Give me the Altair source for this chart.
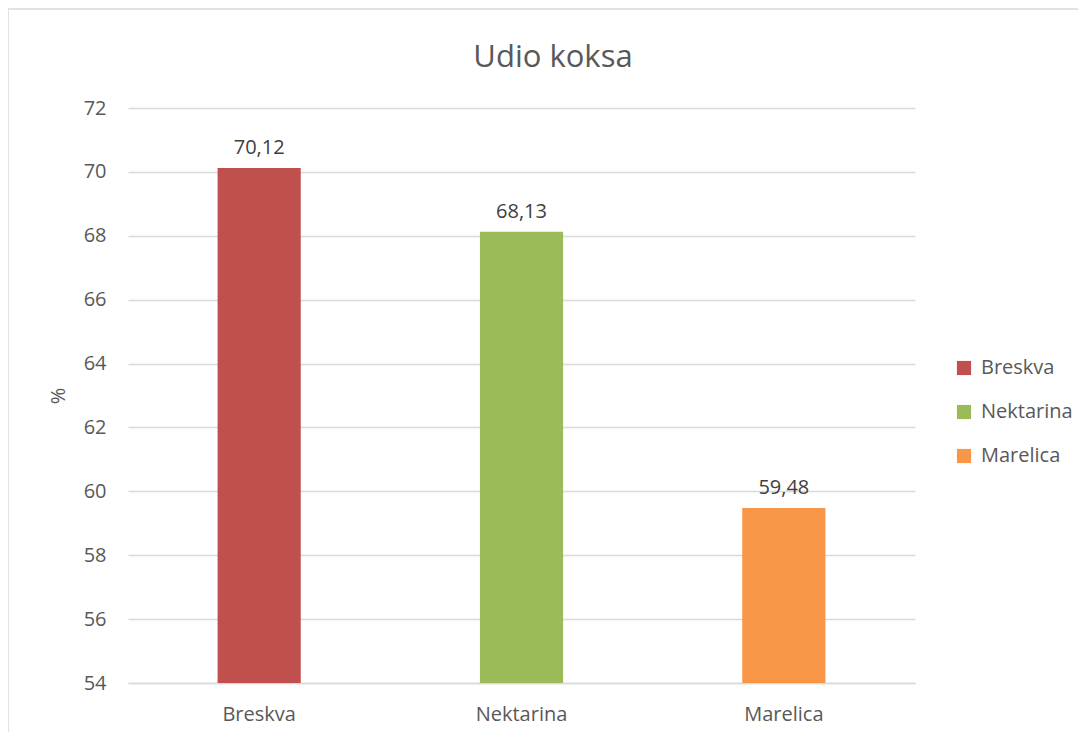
import altair as alt
import pandas as pd

categories = ["Breskva", "Nektarina", "Marelica"]
values = [70.12, 68.13, 59.48]
colors = ["#C0504D", "#9BBB59", "#F79646"]
y_ticks = [54, 56, 58, 60, 62, 64, 66, 68, 70, 72]
title_text = "Udio koksa"

df = pd.DataFrame({"cat": categories, "val": values})

FONT = "Open Sans"

x_enc = alt.X("cat:N", sort=categories, title=None,
              scale=alt.Scale(paddingInner=0.683, paddingOuter=0.3415),
              axis=alt.Axis(labelAngle=0, labelFontSize=20, labelColor="#595959",
                            labelFont=FONT, ticks=False, domain=True,
                            domainColor="#D9D9D9", domainWidth=1.5, labelPadding=21))
y_enc = alt.Y("val:Q", title="%",
              scale=alt.Scale(domain=[54, 72], nice=False, zero=False),
              axis=alt.Axis(values=y_ticks, labelFontSize=20, labelColor="#595959",
                            labelFont=FONT, ticks=False, domain=False,
                            gridColor="#D9D9D9", gridWidth=1.5, labelPadding=22,
                            titleFontSize=20, titleColor="#595959", titleFont=FONT,
                            titleFontWeight="normal", titlePadding=15))

bars = alt.Chart(df).mark_bar(clip=True).encode(
    x=x_enc,
    y=y_enc,
    y2=alt.datum(54),
    color=alt.Color("cat:N", sort=categories,
                    scale=alt.Scale(domain=categories, range=colors),
                    legend=alt.Legend(title=None, orient="none", legendX=826, legendY=250,
                                      symbolType="square", symbolSize=200,
                                      symbolStrokeWidth=0, labelFontSize=20,
                                      labelColor="#595959", labelFont=FONT,
                                      rowPadding=24, labelOffset=7)),
)

labels = alt.Chart(df).transform_calculate(
    lab="replace(format(datum.val, '.2f'), '.', ',')"
).mark_text(baseline="bottom", dy=-10, fontSize=20, color="#404040", font=FONT).encode(
    x=alt.X("cat:N", sort=categories),
    y="val:Q",
    text="lab:N",
)

title = alt.Chart(alt.Data(values=[{"t": title_text}])).mark_text(
    fontSize=31, font=FONT, color="#595959", baseline="alphabetic", align="center"
).encode(
    x=alt.value(425), y=alt.value(-41), text="t:N"
)

border = alt.Chart(alt.Data(values=[{}])).mark_rect(
    fill=None, stroke="#D9D9D9", strokeWidth=1.5
).encode(
    x=alt.value(-120), x2=alt.value(1000), y=alt.value(-99), y2=alt.value(700)
)

chart = alt.layer(border, bars, labels, title).properties(
    width=787, height=575,
    autosize=alt.AutoSizeParams(type="none"),
    padding={"left": 120, "top": 100, "right": 163, "bottom": 49},
).configure(background="white").configure_view(stroke=None)

chart.save("out.html", embed_options={"renderer": "svg", "actions": False})
